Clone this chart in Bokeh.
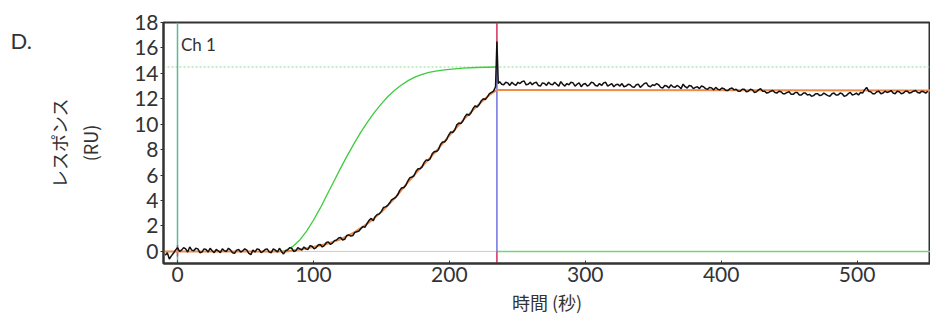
from bokeh.plotting import figure
from bokeh.models import Range1d, FixedTicker, Label
from bokeh.layouts import row
from bokeh.embed import file_html
from bokeh.resources import INLINE

# ---------------- data ----------------
# measured response (black trace), seconds / RU
black_t = [-9, -6, -3, 0, 3, 6, 9, 12, 15, 18,
           21, 24, 27, 30, 33, 36, 39, 42, 45, 48,
           51, 54, 57, 60, 63, 66, 69, 72, 75, 78,
           81, 84, 87, 90, 93, 96, 99, 102, 105, 108,
           111, 114, 117, 120, 123, 126, 129, 132, 135, 138,
           141, 144, 147, 150, 153, 156, 159, 162, 165, 168,
           171, 174, 177, 180, 183, 186, 189, 192, 195, 198,
           201, 204, 207, 210, 213, 216, 219, 222, 225, 228,
           231, 234, 235, 236,
           237, 240, 243, 246, 249, 252, 255, 258, 261, 264,
           267, 270, 273, 276, 279, 282, 285, 288, 291, 294,
           297, 300, 303, 306, 309, 312, 315, 318, 321, 324,
           327, 330, 333, 336, 339, 342, 345, 348, 351, 354,
           357, 360, 363, 366, 369, 372, 375, 378, 381, 384,
           387, 390, 393, 396, 399, 402, 405, 408, 411, 414,
           417, 420, 423, 426, 429, 432, 435, 438, 441, 444,
           447, 450, 453, 456, 459, 462, 465, 468, 471, 474,
           477, 480, 483, 486, 489, 492, 495, 498, 501, 504,
           507, 510, 513, 516, 519, 522, 525, 528, 531, 534,
           537, 540, 543, 546, 549, 552]
black_v = [-0.3, -0.6, -0.15, 0.3, 0.1, 0.2, 0.35, 0.05, 0.2, -0.05,
           0.15, 0.25, -0.1, 0.05, 0.2, 0.0, 0.1, -0.15, 0.15, 0.05,
           0.1, -0.25, -0.05, 0.15, 0.0, 0.2, -0.1, 0.1, 0.25, -0.2,
           0.1, 0.25, 0.05, 0.2, 0.35, 0.15, 0.4, 0.3, 0.55, 0.45,
           0.75, 0.65, 0.9, 1.1, 0.95, 1.3, 1.25, 1.55, 1.8, 1.9,
           2.45, 2.4, 2.9, 3.15, 3.5, 3.8, 4.15, 4.45, 5.0, 5.2,
           5.8, 5.95, 6.5, 6.65, 7.2, 7.3, 7.85, 8.0, 8.6, 8.8,
           9.4, 9.55, 10.1, 10.25, 10.8, 10.9, 11.45, 11.55, 12.0, 12.15,
           12.5, 12.95, 16.5, 13.2,
           13.35, 13.1, 13.25, 13.3, 13.05, 13.2, 13.4, 13.15, 13.1, 13.3,
           13.0, 13.2, 13.3, 13.1, 13.15, 13.35, 13.0, 13.1, 13.25, 13.15,
           12.95, 13.2, 13.1, 13.25, 13.0, 13.05, 13.3, 13.1, 12.95, 13.15,
           13.2, 13.0, 13.1, 12.9, 13.15, 13.05, 13.25, 12.95, 13.05, 13.1,
           12.85, 13.0, 13.1, 12.9, 12.95, 13.15, 12.85, 13.0, 12.9, 12.8,
           12.95, 12.75, 12.85, 12.9, 12.7, 12.8, 12.65, 12.85, 12.75, 12.6,
           12.75, 12.6, 12.7, 12.55, 12.8, 12.6, 12.5, 12.65, 12.45, 12.55,
           12.4, 12.55, 12.35, 12.5, 12.3, 12.45, 12.35, 12.25, 12.4, 12.3,
           12.35, 12.2, 12.45, 12.3, 12.4, 12.25, 12.5, 12.35, 12.3, 12.45,
           12.9, 12.55, 12.4, 12.6, 12.45, 12.5, 12.65, 12.4, 12.55, 12.45,
           12.6, 12.5, 12.65, 12.45, 12.55, 12.6]

# in-between samples of the same trace (1.5 s after each sample above,
# except the injection-end spike samples and the last one)
black_mid_v = [-0.1, -0.35, 0.1, 0.0, 0.3, -0.05, 0.1, 0.25, -0.1, 0.2,
               -0.05, 0.05, 0.15, -0.1, 0.05, 0.25, -0.1, 0.1, -0.05, 0.2,
               -0.15, 0.1, 0.2, -0.1, 0.15, -0.05, 0.2, -0.05, 0.0, 0.05,
               0.3, 0.0, 0.3, 0.1, 0.2, 0.45, 0.2, 0.5, 0.35, 0.7,
               0.55, 0.85, 1.05, 0.9, 1.25, 1.2, 1.5, 1.6, 1.95, 2.2,
               2.6, 2.75, 2.95, 3.45, 3.6, 4.05, 4.25, 4.8, 5.0, 5.55,
               5.85, 6.3, 6.5, 7.0, 7.15, 7.7, 7.85, 8.4, 8.6, 9.15,
               9.35, 9.95, 10.05, 10.6, 10.7, 11.25, 11.35, 11.85, 11.95, 12.4,
               12.6,
               13.15, 13.3, 13.05, 13.15, 13.3, 13.35, 13.1, 13.3, 13.25, 13.05,
               13.25, 13.05, 13.15, 13.3, 13.0, 13.15, 13.2, 13.3, 13.0, 13.25,
               13.15, 13.0, 13.3, 13.05, 13.2, 13.25, 13.0, 13.2, 13.1, 13.0,
               12.95, 13.15, 12.95, 13.1, 12.9, 13.2, 13.0, 13.1, 13.2, 12.9,
               13.05, 12.85, 12.95, 13.05, 12.8, 12.95, 13.05, 12.8, 12.95, 13.0,
               12.8, 12.9, 12.7, 12.75, 12.85, 12.65, 12.8, 12.7, 12.6, 12.75,
               12.55, 12.75, 12.5, 12.7, 12.6, 12.45, 12.6, 12.5, 12.6, 12.4,
               12.5, 12.35, 12.5, 12.3, 12.45, 12.3, 12.2, 12.4, 12.25, 12.45,
               12.25, 12.4, 12.3, 12.45, 12.2, 12.4, 12.3, 12.45, 12.5, 12.7,
               12.6, 12.4, 12.55, 12.4, 12.6, 12.55, 12.45, 12.6, 12.4, 12.6,
               12.45, 12.6, 12.5, 12.6, 12.45]
MID_OFFSET = 1.5
MID_SKIP = (234, 235, 236, 552)

# fitted curve (orange)
fit_t = [-10, 80, 90, 100, 110, 120, 130, 140, 150, 160, 170, 180,
         190, 200, 210, 220, 230, 235, 555]
fit_v = [0.0, 0.0, 0.15, 0.35, 0.6, 0.95, 1.5, 2.2, 3.1, 4.2, 5.5, 6.7,
         7.85, 9.1, 10.3, 11.4, 12.35, 12.7, 12.65]

# modelled curve (green)
model_t = [78, 85, 90, 95, 100, 105, 110, 115, 120, 125, 130, 135, 140,
           145, 150, 155, 160, 165, 170, 175, 180, 185, 190, 195, 200,
           210, 220, 235]
model_v = [0.0, 0.4, 0.9, 1.6, 2.45, 3.4, 4.45, 5.5, 6.55, 7.55, 8.5, 9.4,
           10.2, 10.95, 11.6, 12.2, 12.7, 13.1, 13.45, 13.72, 13.92, 14.07,
           14.18, 14.26, 14.32, 14.41, 14.46, 14.5]

INJECT_START = 0      # s
INJECT_END = 235      # s
R_MAX = 14.5          # RU (dotted level)
X_START, X_END = -10.3, 554
Y_START, Y_END = -0.95, 18

y_ticks = [0, 2, 4, 6, 8, 10, 12, 14, 16, 18]
x_ticks = [0, 100, 200, 300, 400, 500]

panel_label = "D."
channel_label = "Ch 1"
x_title = "時間 (秒)"
y_title = "レスポンス\n(RU)"

# merge the two sample sets into one time-ordered trace
black_mid_t = [t + MID_OFFSET for t in black_t if t not in MID_SKIP]
trace = sorted(zip(black_t + black_mid_t, black_v + black_mid_v))
trace_t = [a for a, _ in trace]
trace_v = [b for _, b in trace]

# ---------------- figure ----------------
TICK_FONT = "Lato"
JP_FONT = "Noto Sans CJK JP"
INK = "#333333"
LEFT_W = 40
H = 317

p = figure(width=930 - LEFT_W, height=H, output_backend="svg", toolbar_location=None,
           x_range=Range1d(X_START, X_END), y_range=Range1d(Y_START, Y_END),
           min_border_left=163 - LEFT_W, min_border_right=0, min_border_top=22,
           min_border_bottom=54)
p.xgrid.visible = False
p.ygrid.visible = False
p.outline_line_color = INK
p.outline_line_width = 2
p.background_fill_color = "white"
p.border_fill_color = "white"

for ax in (p.xaxis[0], p.yaxis[0]):
    ax.axis_line_color = INK
    ax.axis_line_width = 2
    ax.major_tick_line_color = INK
    ax.minor_tick_line_color = None
    ax.major_label_text_font = TICK_FONT
    ax.major_label_text_font_size = "21px"
    ax.major_label_text_color = INK
    ax.axis_label_text_font = JP_FONT
    ax.axis_label_text_font_style = "normal"
    ax.axis_label_text_font_size = "18px"
    ax.axis_label_text_color = INK

p.xaxis.ticker = FixedTicker(ticks=x_ticks)
p.yaxis.ticker = FixedTicker(ticks=y_ticks)
p.xaxis.major_tick_in = 3
p.xaxis.major_tick_out = 0
p.xaxis.major_label_standoff = 3
p.xaxis.axis_label = x_title
p.xaxis.axis_label_standoff = 4
p.yaxis.major_tick_in = 0
p.yaxis.major_tick_out = 3
p.yaxis.major_label_standoff = 2
p.yaxis.axis_label = y_title
p.yaxis.axis_label_standoff = 28

# reference lines
p.segment(x0=[X_START], y0=[0], x1=[INJECT_END], y1=[0], color="#cccccc", line_width=1)
p.segment(x0=[INJECT_END], y0=[0], x1=[X_END], y1=[0], color="#77d477", line_width=1.5)
p.segment(x0=[X_START], y0=[R_MAX], x1=[X_END], y1=[R_MAX], color="#88dd88",
          line_width=1, line_dash="2 2")
p.segment(x0=[INJECT_START], y0=[Y_START], x1=[INJECT_START], y1=[Y_END],
          color="#5cb896", line_width=1.5)
p.segment(x0=[INJECT_START], y0=[-0.4], x1=[INJECT_START], y1=[0.5],
          color="#e0408a", line_width=1.5)
p.segment(x0=[INJECT_END], y0=[R_MAX], x1=[INJECT_END], y1=[Y_END],
          color="#d0305a", line_width=1.5)
p.segment(x0=[INJECT_END], y0=[0], x1=[INJECT_END], y1=[R_MAX],
          color="#7070e0", line_width=1.5)
p.segment(x0=[INJECT_END], y0=[Y_START], x1=[INJECT_END], y1=[0],
          color="#d0305a", line_width=1.5)

# curves
p.line(model_t, model_v, color="#3ccc3c", line_width=1.3)
p.line(fit_t, fit_v, color="#f08a4b", line_width=2)
p.line(trace_t, trace_v, color="#111111", line_width=1.5)

# texts
p.add_layout(Label(x=2.5, y=16.3, text=channel_label, text_font=TICK_FONT,
                   text_font_size="17px", text_color=INK, text_baseline="alphabetic"))

# narrow side panel carrying the panel letter
side = figure(width=LEFT_W, height=H, output_backend="svg", toolbar_location=None,
              x_range=Range1d(0, LEFT_W), y_range=Range1d(0, H),
              min_border=0, outline_line_color=None)
side.axis.visible = False
side.grid.visible = False
side.add_layout(Label(x=10, y=H - 24, text=panel_label, text_font=TICK_FONT,
                      text_font_size="22px", text_color=INK,
                      text_baseline="alphabetic"))

layout = row(side, p, spacing=0)
open("out.html", "w").write(file_html(layout, INLINE))
